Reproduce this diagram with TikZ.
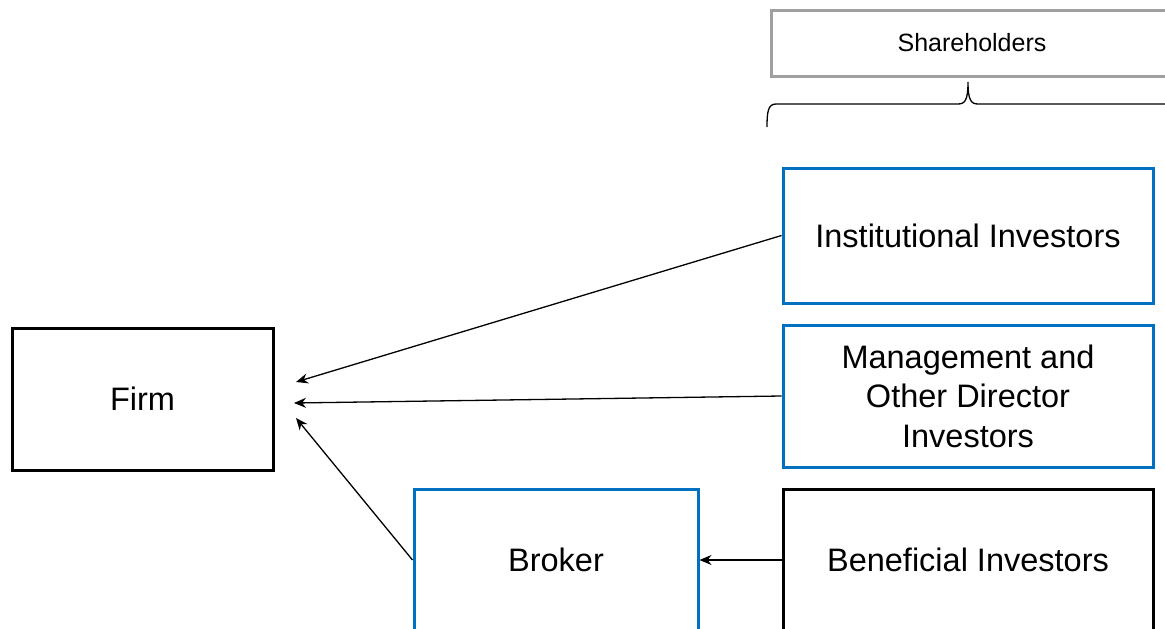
\documentclass[tikz,border=0pt]{standalone}
\usepackage{fontspec}
\setmainfont{Liberation Sans}
\usetikzlibrary{arrows.meta}
\definecolor{boxblue}{HTML}{0070C0}
\definecolor{boxgray}{HTML}{A0A0A0}
\tikzset{
  box/.style={draw, line width=3pt, inner sep=0pt, align=center, font=\fontsize{32.5}{39.5}\selectfont},
  bluebox/.style={box, draw=boxblue},
  blackbox/.style={box, draw=black},
  graybox/.style={box, draw=boxgray, font=\fontsize{25}{30}\selectfont},
  conn/.style={line width=1.3pt, -{Stealth[length=12pt,width=10pt]}}
}
\begin{document}
\begin{tikzpicture}[x=1pt,y=-1pt]
\useasboundingbox (0,0) rectangle (1165,629);
\fill[white] (0,0) rectangle (1165,629);
\clip (0,0) rectangle (1165,629);
\node[graybox, minimum width=402pt, minimum height=66pt] (sh) at (972,43) {Shareholders};
\node[blackbox, minimum width=261pt, minimum height=142pt] (firm) at (142.5,399) {Firm};
\node[bluebox, minimum width=370pt, minimum height=135pt] (inst) at (968,235.5) {Institutional Investors};
\node[bluebox, minimum width=370pt, minimum height=142pt] (mgmt) at (968,396) {Management and\\Other Director\\Investors};
\node[blackbox, minimum width=370pt, minimum height=142pt] (ben) at (968,560) {Beneficial Investors};
\node[bluebox, minimum width=284pt, minimum height=142pt] (broker) at (556,560) {Broker};
% brace
\draw[line width=1.3pt] (767,127) .. controls (767,112) and (768,104) .. (776,104)
  -- (958,104) .. controls (965,104) and (968,100) .. (968,82)
  .. controls (968,100) and (971,104) .. (978,104) -- (1175,104);
\coordinate (f1) at (296,382);
\coordinate (f2) at (294,403);
\coordinate (f3) at (296,418);
\draw[conn] (inst.west) -- (f1);
\draw[conn] (mgmt.west) -- (f2);
\draw[conn] (broker.west) -- (f3);
\draw[conn] (ben.west) -- (broker.east);
\end{tikzpicture}
\end{document}
